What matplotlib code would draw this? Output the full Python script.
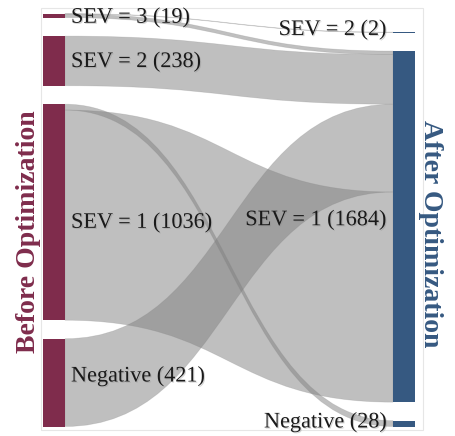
import numpy as np
import matplotlib.pyplot as plt
from matplotlib.path import Path
from matplotlib.patches import PathPatch, Rectangle
import matplotlib.patheffects as pe

# nodes (before / after)
left_names = ['SEV = 3', 'SEV = 2', 'SEV = 1', 'Negative']
left_counts = [19, 238, 1036, 421]
right_names = ['SEV = 2', 'SEV = 1', 'Negative']
right_counts = [2, 1684, 28]

# flows, listed in the order they stack on the "after" side
flow_src = [0, 0, 1, 3, 2, 2]
flow_dst = [0, 1, 1, 1, 1, 2]
flow_val = [2, 17, 238, 421, 1008, 28]
# stacking order on the "before" side
src_rank = [0, 1, 2, 3, 5, 4]

# label nudges (px)
left_dy = [2.5, 1.5, 11, -6]
right_dy = [-2, -6, -1]

left_color = '#7f2c4c'
right_color = '#365981'

W, H = 455, 436
fig = plt.figure(figsize=(W / 100, H / 100), dpi=100)
ax = fig.add_axes([0, 0, 1, 1])
ax.set_xlim(0, W)
ax.set_ylim(H, 0)
ax.axis('off')

k = 0.2085      # px per case
gap = 18.5
bottom = 426.5
xl0, xl1 = 43, 65
xr0, xr1 = 393, 415


def stack(counts):
    tops = [0] * len(counts)
    y = bottom
    for i in reversed(range(len(counts))):
        tops[i] = y - counts[i] * k
        y = tops[i] - gap
    return tops


left_top = stack(left_counts)
right_top = stack(right_counts)

ax.add_patch(Rectangle((41, 8), 382, 422, fill=False, ec='#e6e6e6', lw=0.8))

# where each flow leaves / arrives
out_y = {}
used = [0.0] * len(left_counts)
for i in sorted(range(len(flow_val)), key=lambda j: src_rank[j]):
    s = flow_src[i]
    out_y[i] = left_top[s] + used[s]
    used[s] += flow_val[i] * k
in_y = {}
used = [0.0] * len(right_counts)
for i in range(len(flow_val)):
    d = flow_dst[i]
    in_y[i] = right_top[d] + used[d]
    used[d] += flow_val[i] * k

xm = (xl1 + xr0) / 2
for i in range(len(flow_val)):
    h = flow_val[i] * k
    a, b = out_y[i], in_y[i]
    verts = [(xl1, a), (xm, a), (xm, b), (xr0, b),
             (xr0, b + h), (xm, b + h), (xm, a + h), (xl1, a + h), (xl1, a)]
    codes = [Path.MOVETO, Path.CURVE4, Path.CURVE4, Path.CURVE4,
             Path.LINETO, Path.CURVE4, Path.CURVE4, Path.CURVE4, Path.CLOSEPOLY]
    ax.add_patch(PathPatch(Path(verts, codes), fc=(0.5, 0.5, 0.5, 0.5),
                           ec=(0.5, 0.5, 0.5, 0.25), lw=0.5))

shadow = [pe.withSimplePatchShadow(offset=(0.8, -0.8), shadow_rgbFace='#888888', alpha=0.35)]
font = 'Liberation Serif'

for i, n in enumerate(left_names):
    ax.add_patch(Rectangle((xl0, left_top[i]), xl1 - xl0, left_counts[i] * k,
                           fc=left_color, ec='none'))
    yc = left_top[i] + left_counts[i] * k / 2 + left_dy[i]
    ax.text(xl1 + 6, yc, f'{n} ({left_counts[i]})', ha='left', va='center',
            fontsize=16, family=font, color='#1a1a1a', path_effects=shadow)

for i, n in enumerate(right_names):
    ax.add_patch(Rectangle((xr0, right_top[i]), xr1 - xr0, right_counts[i] * k,
                           fc=right_color, ec='none'))
    yc = right_top[i] + right_counts[i] * k / 2 + right_dy[i]
    ax.text(xr0 - 6, yc, f'{n} ({right_counts[i]})', ha='right', va='center',
            fontsize=16, family=font, color='#1a1a1a', path_effects=shadow)

ax.text(29, 232, 'Before Optimization', rotation=90, ha='center', va='center',
        fontsize=20, fontweight='bold', family=font, color=left_color)
ax.text(430, 234, 'After Optimization', rotation=-90, ha='center', va='center',
        fontsize=20, fontweight='bold', family=font, color=right_color)

fig.savefig('out.png', dpi=100)
